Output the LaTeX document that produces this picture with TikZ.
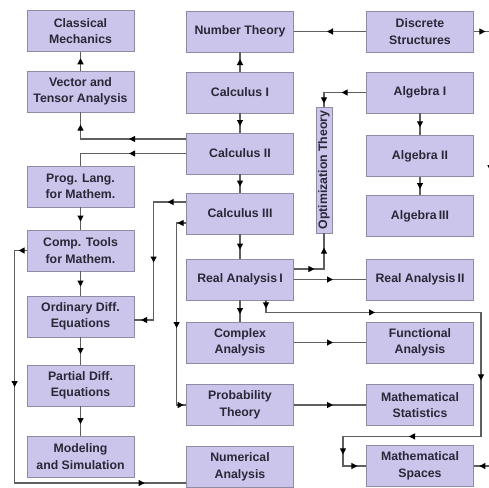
\documentclass[tikz,border=0pt]{standalone}
\usepackage{fontspec}
\setmainfont{Liberation Sans}
\usetikzlibrary{arrows.meta,decorations.markings,calc}
\definecolor{boxfill}{RGB}{203,197,235}
\definecolor{boxline}{RGB}{140,140,165}
\definecolor{linec}{RGB}{95,95,95}
\definecolor{txt}{RGB}{40,40,55}
\newcommand\mtip{\arrow[xshift=3pt]{Triangle[length=6pt,width=6pt,color=black]}}
\tikzset{
  box/.style={draw=boxline, fill=boxfill, line width=0.8pt, minimum width=107pt,
    minimum height=41pt, inner sep=0pt, align=center, text=txt,
    font=\fontsize{12.3}{16.5}\selectfont\bfseries},
  optbox/.style={box, rotate=90, minimum width=126pt, minimum height=16pt},
  conn/.style={draw=linec, line width=1.1pt},
  mids/.style={postaction={decorate}, decoration={markings, #1}},
  midarr/.style={mids={mark=at position 0.5 with {\mtip}}},
}
\begin{document}
\begin{tikzpicture}[x=1pt,y=-1pt]
\fill[white] (0,0) rectangle (489,487);
\useasboundingbox (0,0) rectangle (489,487);
% left column
\node[box] (CM)  at (80.5,31)    {Classical\\Mechanics};
\node[box] (VTA) at (80.5,91.5)  {Vector and\\Tensor Analysis};
\node[box] (PL)  at (80.5,186.5) {Prog. Lang.\\for Mathem.};
\node[box] (CT)  at (80.5,250.5) {Comp. Tools\\for Mathem.};
\node[box] (ODE) at (80.5,316.5) {Ordinary Diff.\\Equations};
\node[box] (PDE) at (80.5,385.5) {Partial Diff.\\Equations};
\node[box] (MOD) at (80.5,456.5) {Modeling\\and Simulation};
% middle column
\node[box] (NT)  at (240,31.5)  {Number Theory};
\node[box] (C1)  at (240,92.5)  {Calculus I};
\node[box] (C2)  at (240,153.5) {Calculus II};
\node[box] (C3)  at (240,213.5) {Calculus III};
\node[box] (RA1) at (240,279.5) {Real Analysis\,I};
\node[box] (CA)  at (240,342.5) {Complex\\Analysis};
\node[box] (PT)  at (240,405)   {Probability\\Theory};
\node[box] (NA)  at (240,467)   {Numerical\\Analysis};
% right column
\node[box] (DS)  at (420,31.5)  {Discrete\\Structures};
\node[box] (A1)  at (420,92.5)  {Algebra I};
\node[box] (A2)  at (420,156)   {Algebra II};
\node[box] (A3)  at (420,216)   {Algebra\,III};
\node[box] (RA2) at (420,279.5) {Real Analysis\,II};
\node[box] (FA)  at (420,342.5) {Functional\\Analysis};
\node[box] (MST) at (420,405)   {Mathematical\\Statistics};
\node[box] (MSP) at (420,466)   {Mathematical\\Spaces};
% optimization
\node[optbox] (OPT) at (324,170) {Optimization Theory};
% simple connectors
\draw[conn,midarr] (VTA) -- (CM);
\draw[conn,midarr] (C1) -- (NT);
\draw[conn,midarr] (C1) -- (C2);
\draw[conn,midarr] (C2) -- (C3);
\draw[conn,midarr] (C3) -- (RA1);
\draw[conn,midarr] (RA1) -- (CA);
\draw[conn,midarr] (DS) -- (NT);
\draw[conn,midarr] (A1) -- (A2);
\draw[conn,midarr] (A2) -- (A3);
\draw[conn,midarr] (PL) -- (CT);
\draw[conn,midarr] (CT) -- (ODE);
\draw[conn,midarr] (ODE) -- (PDE);
\draw[conn,midarr] (PDE) -- (MOD);
\draw[conn,midarr] (RA1) -- (RA2);
\draw[conn,midarr] (CA) -- (FA);
\draw[conn,midarr] (PT) -- (MST);
% routed connectors
\draw[conn,mids={mark=at position 54pt with {\mtip}, mark=at position 117pt with {\mtip}}]
  ($(C2.west)+(0,-14.5)$) -| (VTA.south);
\draw[conn,mids={mark=at position 54pt with {\mtip}}]
  (C2.west) -| (PL.north);
\draw[conn,mids={mark=at position 15.5pt with {\mtip}, mark=at position 90pt with {\mtip}, mark=at position 160pt with {\mtip}}]
  ($(C3.west)+(0,-11.5)$) -- ++(-32.5,0) |- ($(ODE.east)+(0,3.5)$);
\draw[conn,mids={mark=at position 5.5pt with {\mtip}, mark=at position 111.5pt with {\mtip}, mark=at position 195.5pt with {\mtip}}]
  ($(C3.west)+(0,9.5)$) -- ++(-9.5,0) |- (PT.west);
\draw[conn,mids={mark=at position 5pt with {\mtip}, mark=at position 145.5pt with {\mtip}, mark=at position 371.5pt with {\mtip}}]
  (CT.west) -- ++(-12,0) |- ($(NA.west)+(0,16)$);
\draw[conn,mids={mark=at position 21.5pt with {\mtip}, mark=at position 50pt with {\mtip}}]
  (A1.west) -| (OPT.east);
\draw[conn,mids={mark=at position 17.5pt with {\mtip}, mark=at position 48.5pt with {\mtip}}]
  ($(RA1.east)+(0,-10.5)$) -| (OPT.west);
\draw[conn,mids={mark=at position 5pt with {\mtip}, mark=at position 118pt with {\mtip}, mark=at position 292pt with {\mtip}, mark=at position 420pt with {\mtip}, mark=at position 504pt with {\mtip}, mark=at position 530pt with {\mtip}}]
  ($(RA1.south)+(26,0)$) -- ++(0,12) -- ++(215,0) -- ++(0,124) -- ++(-138,0) |- (MSP.west);
\draw[conn,mids={mark=at position 8.5pt with {\mtip}, mark=at position 153pt with {\mtip}, mark=at position 459pt with {\mtip}}]
  (DS.east) -- ++(16.5,0) |- (MSP.east);
\end{tikzpicture}
\end{document}
